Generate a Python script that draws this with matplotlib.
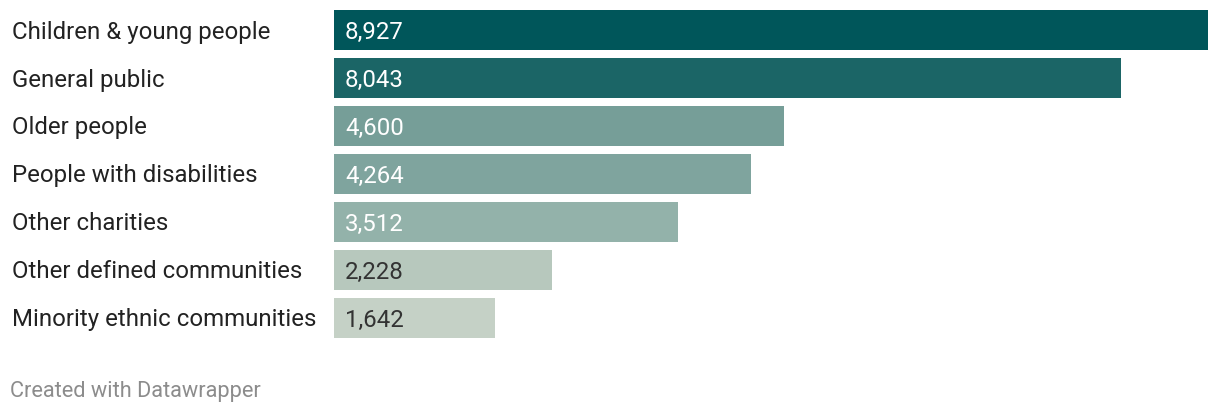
import matplotlib
matplotlib.use('Agg')
import matplotlib.pyplot as plt

categories = ['Children & young people', 'General public', 'Older people',
              'People with disabilities', 'Other charities',
              'Other defined communities', 'Minority ethnic communities']
values = [8927, 8043, 4600, 4264, 3512, 2228, 1642]
bar_colors = ['#00565A', '#1B6566', '#769E98', '#7FA49E', '#93B2AA',
              '#B7C8BD', '#C5D1C6']
text_colors = ['white', 'white', 'white', 'white', 'white', '#333333', '#333333']

plt.rcParams['font.family'] = ['Roboto', 'DejaVu Sans']

W, H = 1220, 414
fig = plt.figure(figsize=(W / 100, H / 100), dpi=100)
fig.patch.set_facecolor('white')

# axes placed in pixel terms: bars from x=334, rows 48px tall starting y=6
ax = fig.add_axes([334 / W, (H - 343) / H, 874 / W, 336 / H])
ax.set_xlim(0, max(values))
ax.set_ylim(len(values) - 0.5, -0.5)
ax.axis('off')

ypos = list(range(len(values)))
ax.barh(ypos, values, height=40 / 48, color=bar_colors, linewidth=0)

for y, v, tc, cat in zip(ypos, values, text_colors, categories):
    ax.annotate(f'{v:,}', xy=(0, y), xytext=(11, -1), textcoords='offset pixels',
                va='center', ha='left', fontsize=17.3, color=tc)
    ax.annotate(cat, xy=(12 / W, y), xycoords=('figure fraction', 'data'),
                xytext=(0, -1), textcoords='offset pixels',
                va='center', ha='left', fontsize=17.3, color='#222222')

fig.text(10 / W, 1 - 392 / H, 'Created with Datawrapper', fontsize=15.7,
         color='#8c8c8c', va='center', ha='left')

fig.savefig('out.png', dpi=100)
